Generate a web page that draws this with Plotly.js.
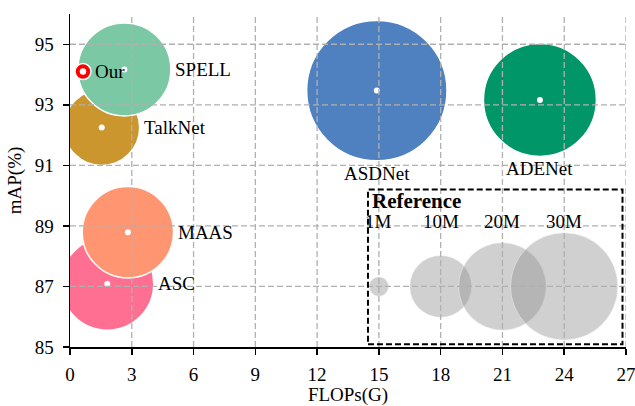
<!DOCTYPE html>
<html><head><meta charset="utf-8">
<script src="https://cdn.plot.ly/plotly-3.0.1.min.js"></script>
<style>html,body{margin:0;padding:0;background:#fff}#chart{width:635px;height:406px}</style>
</head><body><div id="chart"></div>
<script>
// ---- data ----
const models = ["ASC", "MAAS", "TalkNet", "SPELL", "ASDNet", "ADENet"];
const modelFlops = [1.81, 2.81, 1.54, 2.64, 14.9, 22.82];
const modelMAP = [87.09, 88.79, 92.25, 94.17, 93.47, 93.16];
const modelParams = [22.5, 21.7, 15.0, 22.5, 51.3, 33.2];
const oursName = ["Our"];
const oursFlops = [0.63];
const oursMAP = [94.1];
const refLabels = ["1M", "10M", "20M", "30M"];
const refFlops = [15, 18, 21, 24];
const refMAP = [87, 87, 87, 87];
const refParams = [1, 10, 20, 30];
const xTickVals = [0, 3, 6, 9, 12, 15, 18, 21, 24, 27];
const yTickVals = [85, 87, 89, 91, 93, 95];

// ---- style ----
const FONT = "Liberation Serif, Times New Roman, serif";
const modelColors = ["#FF6F91", "#FF9671", "#CC962F", "#7BC8A4", "#4F81C1", "#009668"];
const labelSide = ["right", "right", "right", "right", "bottom", "bottom"];
const K = 19.6;
const diam = p => K * Math.sqrt(p);
const xRange = [0, 27], yRange = [85, 96];
const refLabelY = 89.15;
const refBox = {x0: 14.47, x1: 26.83, y0: 85.09, y1: 90.2};
const refTitlePos = {x: 14.69, y: 89.82};

const traces = [
  { type: "scatter", mode: "markers", x: refFlops, y: refMAP, hoverinfo: "skip",
    marker: { size: refParams.map(diam), color: "rgba(149,149,149,0.62)",
              line: { color: "rgba(255,255,255,0.5)", width: 1 } } },
  { type: "scatter", mode: "markers", x: modelFlops, y: modelMAP, text: models,
    marker: { size: modelParams.map(diam), color: modelColors, opacity: 1,
              line: { color: "#ffffff", width: 1.5 } } },
  { type: "scatter", mode: "markers", x: modelFlops, y: modelMAP, hoverinfo: "skip",
    marker: { size: 6, color: "#ffffff" } },
  { type: "scatter", mode: "markers", x: oursFlops, y: oursMAP, text: oursName,
    marker: { size: 16, color: "#FF0000", line: { color: "#ffffff", width: 1.5 } } },
  { type: "scatter", mode: "markers", x: oursFlops, y: oursMAP, hoverinfo: "skip",
    marker: { size: 6.5, color: "#ffffff" } }
];

const annotations = [];
models.forEach((m, i) => {
  const r = diam(modelParams[i]) / 2;
  if (labelSide[i] === "right") {
    annotations.push({ x: modelFlops[i], y: modelMAP[i], text: m, showarrow: false,
      xanchor: "left", yanchor: "middle", xshift: r + 2.5, yshift: 0,
      font: { family: FONT, size: 19, color: "#000" } });
  } else {
    annotations.push({ x: modelFlops[i], y: modelMAP[i], text: m, showarrow: false,
      xanchor: "center", yanchor: "top", xshift: 0, yshift: -r,
      font: { family: FONT, size: 19, color: "#000" } });
  }
});
oursName.forEach((m, i) => {
  annotations.push({ x: oursFlops[i], y: oursMAP[i], text: m, showarrow: false,
    xanchor: "left", yanchor: "middle", xshift: 10, yshift: 0,
    font: { family: FONT, size: 19, color: "#000" } });
});
refLabels.forEach((m, i) => {
  annotations.push({ x: refFlops[i], y: refLabelY, text: m, showarrow: false,
    xanchor: "center", yanchor: "middle", borderpad: 0,
    font: { family: FONT, size: 19, color: "#000" } });
});
annotations.push({ x: refTitlePos.x, y: refTitlePos.y, text: "<b>Reference</b>", showarrow: false,
  xanchor: "left", yanchor: "middle", xshift: -2, borderpad: 0,
  font: { family: FONT, size: 21, color: "#000" } });

const gridStyle = { color: "#b0b0b0", width: 1.3, dash: "6px,3px" };
const shapes = [];
xTickVals.filter(v => v !== xRange[0]).forEach(v => shapes.push({
  type: "line", xref: "x", yref: "y", x0: v, x1: v, y0: yRange[0], y1: yRange[1],
  layer: "above", line: gridStyle }));
yTickVals.filter(v => v !== yRange[0]).forEach(v => shapes.push({
  type: "line", xref: "x", yref: "y", x0: xRange[0], x1: xRange[1], y0: v, y1: v,
  layer: "above", line: gridStyle }));
shapes.push({ type: "rect", xref: "x", yref: "y", x0: refBox.x0, x1: refBox.x1,
  y0: refBox.y0, y1: refBox.y1, layer: "above",
  line: { color: "#000", width: 2, dash: "6px,3px" }, fillcolor: "rgba(0,0,0,0)" });

const axisCommon = {
  showgrid: false, zeroline: false, showline: true, linecolor: "#000", linewidth: 1.5,
  ticks: "outside", ticklen: 6, tickwidth: 1.5, tickcolor: "#000",
  tickfont: { family: FONT, size: 19, color: "#000" }, layer: "above traces",
  ticklabeloverflow: "allow", fixedrange: true
};

const layout = {
  width: 635, height: 406,
  margin: { l: 70, r: 8.5, t: 14, b: 59 },
  paper_bgcolor: "#fff", plot_bgcolor: "#fff",
  showlegend: false,
  font: { family: FONT, size: 19, color: "#000" },
  xaxis: Object.assign({}, axisCommon, { range: xRange, tickvals: xTickVals,
    ticktext: xTickVals.map(String), ticklabelstandoff: 4,
    title: { text: "FLOPs(G)", font: { family: FONT, size: 19, color: "#000" }, standoff: 6 } }),
  yaxis: Object.assign({}, axisCommon, { range: yRange, tickvals: yTickVals,
    ticktext: yTickVals.map(String), ticklabelstandoff: 5,
    title: { text: "mAP(%)", font: { family: FONT, size: 19, color: "#000" }, standoff: 8 } }),
  annotations: annotations,
  shapes: shapes,
  hovermode: false
};

Plotly.newPlot("chart", traces, layout, { displayModeBar: false, staticPlot: true });
</script>
</body></html>
